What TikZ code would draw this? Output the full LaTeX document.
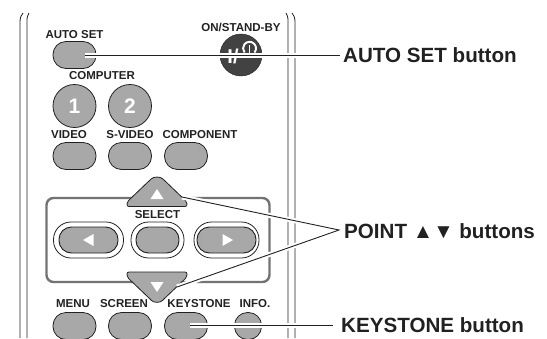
\documentclass[tikz,border=0pt]{standalone}
\usepackage{fontspec}
\setmainfont{Liberation Sans}
\usetikzlibrary{calc}
\definecolor{btn}{gray}{0.66}
\definecolor{ink}{gray}{0.13}
\tikzset{
  x=1pt,y=-1pt,
  rail/.style={draw=ink,line width=0.8pt},
  btnbox/.style={draw=ink,fill=btn,line width=0.8pt,rectangle,rounded corners=13pt,minimum width=43pt,minimum height=27pt,inner sep=0pt},
  roundbtn/.style={draw=ink,fill=btn,line width=0.8pt,circle,minimum size=43pt,inner sep=0pt,text=white,font=\bfseries\fontsize{21}{21}\selectfont},
  tag/.style={inner sep=0pt,font=\bfseries\fontsize{11.5}{12}\selectfont,text=ink},
  callout/.style={inner sep=0pt,anchor=west,font=\bfseries\fontsize{20.6}{22}\selectfont,text=ink},
  leaderhalo/.style={draw=white,line width=5pt},
  leader/.style={draw=ink,line width=0.9pt},
  capin/.style={draw=ink,fill=btn,line width=0.9pt,rectangle,rounded corners=12.5pt,minimum height=26pt,inner sep=0pt},
  capout/.style={draw=ink,fill=white,line width=0.8pt,rectangle,rounded corners=17.5pt,minimum height=36pt,inner sep=0pt},
}
\begin{document}
\begin{tikzpicture}
\useasboundingbox (0,0) rectangle (547,338);
% rails
\draw[rail] (20,338) -- (20,22) .. controls (20,18) and (21,15) .. (23,13);
\draw[rail] (27,338) -- (27,19) .. controls (27,17) and (28,15) .. (29,13);
\draw[rail] (295,338) -- (295,22) .. controls (295,18) and (294,15) .. (292,13);
\draw[rail] (288,338) -- (288,19) .. controls (288,17) and (287,15) .. (286,13);
% top buttons
\node[tag] (tauto) at (74.5,35) {AUTO SET};
\node[btnbox] (auto) at (74.5,55) {};
\node[tag] (tpower) at (241,27) {ON/STAND-BY};
\node[draw=ink,fill=ink!85,circle,minimum size=42pt,inner sep=0pt] (power) at (241,55) {};
\node[inner sep=0pt,text=white,font=\bfseries\fontsize{20}{20}\selectfont] (powertxt) at (233,56) {I/};
\draw[white,line width=1.9pt] (254.5,52.5) arc[start angle=40,end angle=-220,radius=6.5];
\draw[white,line width=1.9pt] (249.5,45) -- (249.5,57);
\node[tag] (tcomp) at (102,76) {COMPUTER};
\node[roundbtn] (one) at (74.5,106) {1};
\node[roundbtn] (two) at (130,106) {2};
\node[tag] (tvideo) at (69,135) {VIDEO};
\node[tag] (tsvideo) at (130,135) {S-VIDEO};
\node[tag] (tcomponent) at (200,135) {COMPONENT};
\node[btnbox] (video) at (74.5,156) {};
\node[btnbox] (svideo) at (130,156) {};
\node[btnbox] (component) at (186,156) {};
% select panel
\node[draw=black!55,line width=2.4pt,rectangle,rounded corners=7pt,minimum width=223pt,minimum height=84pt,inner sep=0pt] (panel) at (158,240) {};
\draw[draw=ink,fill=btn,line width=0.8pt,rounded corners=2pt] (127,206.5) -- (127,202) -- (150,180) .. controls (154,176.5) and (160,176.5) .. (164,180) -- (187,202) -- (187,206.5) -- cycle;
\draw[draw=ink,fill=btn,line width=0.8pt,rounded corners=2pt] (127,272) -- (127,277) -- (150,299) .. controls (154,303) and (160,303) .. (164,299) -- (187,277) -- (187,272) -- cycle;
\fill[white] (157,189) -- (163.5,199) -- (150.5,199) -- cycle;
\fill[white] (157,292) -- (163.5,282) -- (150.5,282) -- cycle;
\node[tag] (tselect) at (157.5,215) {SELECT};
\node[capout,minimum width=70pt] (lo) at (88.5,240) {};
\node[capin,minimum width=59pt] (left) at (88.5,240) {};
\node[capout,minimum width=53pt] (mo) at (157.5,240) {};
\node[capin,minimum width=43pt] (mid) at (157.5,240) {};
\node[capout,minimum width=65pt] (ro) at (226.5,240) {};
\node[capin,minimum width=59pt] (right) at (226.5,240) {};
\fill[white] (83,240) -- (93.5,234) -- (93.5,246) -- cycle;
\fill[white] (233,240) -- (222.5,234) -- (222.5,246) -- cycle;
% bottom row
\node[tag] (tmenu) at (73,304) {MENU};
\node[tag] (tscreen) at (124,304) {SCREEN};
\node[tag] (tkey) at (199,304) {KEYSTONE};
\node[tag] (tinfo) at (255,304) {INFO.};
\node[btnbox] (menu) at (74.5,326) {};
\node[btnbox] (screen) at (130,326) {};
\node[btnbox] (keystone) at (186,326) {};
\node[btnbox,minimum width=27pt] (info) at (248,326) {};
% labels
\node[callout] (lauto) at (343,55) {AUTO SET button};
\node[callout] (lpoint) at (344,231) {POINT ▲▼ buttons};
\node[callout] (lkey) at (341,325) {KEYSTONE button};
% connector anchors
\coordinate (a1) at (85,55);
\coordinate (a2) at (340,55);
\coordinate (p0) at (339,230);
\coordinate (p1) at (182,197);
\coordinate (p2) at (177,287);
\coordinate (k1) at (190,325);
\coordinate (k2) at (333,325);
% halos
\draw[leaderhalo] (a1) -- ($(a2)+(-10,0)$);
\draw[leaderhalo] (p1) -- ($(p0)!0.12!(p1)$);
\draw[leaderhalo] (p2) -- ($(p0)!0.12!(p2)$);
\draw[leaderhalo] (k1) -- ($(k2)+(-10,0)$);
% leaders
\draw[leader] (a1) -- (a2);
\draw[leader] (p1) -- (p0) -- (p2);
\draw[leader] (k1) -- (k2);
\end{tikzpicture}
\end{document}
